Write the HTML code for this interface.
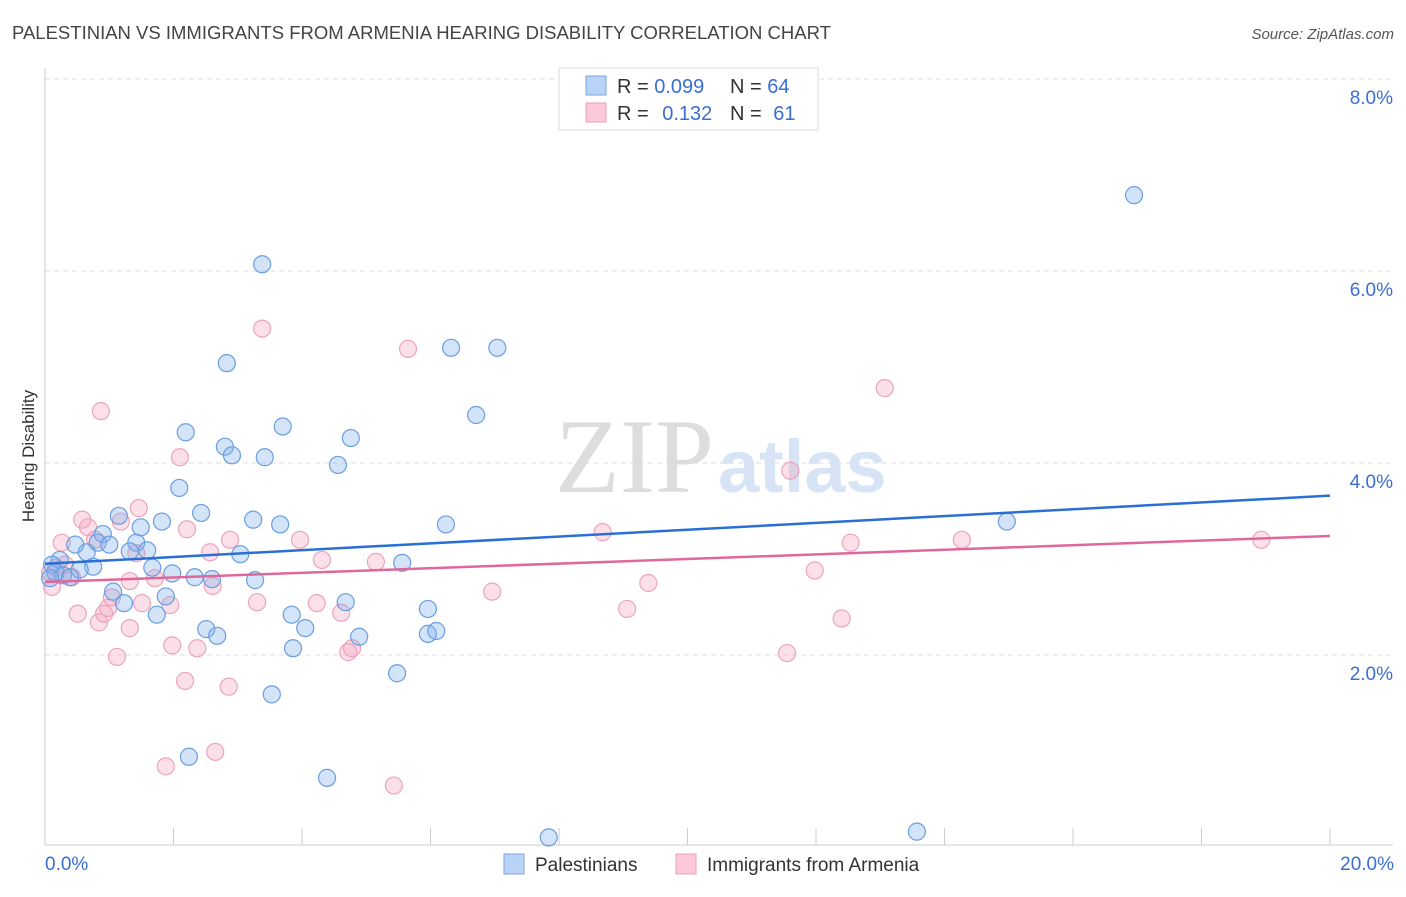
<!DOCTYPE html>
<html><head><meta charset="utf-8"><style>
body{margin:0;background:#fff;font-family:"Liberation Sans",sans-serif;}
</style></head><body>
<svg id="chart" width="1406" height="892" xmlns="http://www.w3.org/2000/svg" font-family="Liberation Sans, sans-serif">
<text x="12" y="39" font-size="18.5" fill="#444">PALESTINIAN VS IMMIGRANTS FROM ARMENIA HEARING DISABILITY CORRELATION CHART</text>
<text x="1394" y="39" font-size="15" fill="#555" text-anchor="end" font-style="italic">Source: ZipAtlas.com</text>
<g id="grid"></g>
<g>
<text x="555" y="492" font-size="106" font-family="Liberation Serif, serif" fill="#ddd">ZIP</text>
<text x="718" y="492" font-size="74" fill="#d6e4f5" font-weight="bold">atlas</text>
</g>
<g id="axes"></g>
<g id="pts"></g>
<g id="trend"></g>
<text transform="translate(34,456) rotate(-90)" font-size="17" fill="#333" text-anchor="middle">Hearing Disability</text>
<g>
<rect x="559" y="68" width="259" height="62" fill="#fff" stroke="#ddd"/>
<rect x="586" y="76" width="20" height="19" fill="#b8d3f5" stroke="#7aa8e6"/>
<rect x="586" y="103" width="20" height="19" fill="#fbc9d8" stroke="#ee9fb9"/>
<text x="617" y="93" font-size="20" fill="#333">R = <tspan fill="#3a6fd0">0.099</tspan></text>
<text x="730" y="93" font-size="20" fill="#333">N = <tspan fill="#3a6fd0">64</tspan></text>
<text x="617" y="120" font-size="20" fill="#333">R = <tspan fill="#3a6fd0" dx="8">0.132</tspan></text>
<text x="730" y="120" font-size="20" fill="#333">N = <tspan fill="#3a6fd0" dx="6">61</tspan></text>
</g>
<g>
<rect x="504" y="854" width="20" height="20" fill="#b8d3f5" stroke="#7aa8e6"/>
<text x="535" y="871" font-size="19" fill="#333">Palestinians</text>
<rect x="676" y="854" width="20" height="20" fill="#fbc9d8" stroke="#ee9fb9"/>
<text x="707" y="871" font-size="19" fill="#333">Immigrants from Armenia</text>
</g>
</svg>
<script>
const yTicks=[2,4,6,8];
const yTickLabels=["2.0%","4.0%","6.0%","8.0%"];
const xTickLabels=["0.0%","20.0%"];
const blueX=[3.38,16.95,2.83,6.32,7.04,6.71,2.19,3.70,4.76,2.80,2.91,3.42,4.56,2.09,2.43,1.15,1.82,3.24,1.49,3.66,6.24,14.97,0.90,0.47,0.82,1.00,1.42,1.59,1.32,3.04,5.56,0.65,0.23,0.11,0.16,0.28,0.75,0.54,1.67,1.98,2.33,2.60,3.27,0.08,0.39,1.06,1.23,1.88,1.74,3.84,4.68,4.05,2.51,2.68,4.89,5.96,5.96,6.09,3.86,5.48,3.53,2.24,4.39,7.84,13.57];
const blueY=[6.07,6.79,5.04,5.20,5.20,4.50,4.32,4.38,4.26,4.17,4.08,4.06,3.98,3.74,3.48,3.45,3.39,3.41,3.33,3.36,3.36,3.39,3.26,3.15,3.17,3.15,3.17,3.09,3.08,3.05,2.96,3.07,2.99,2.94,2.86,2.83,2.92,2.89,2.91,2.85,2.81,2.79,2.78,2.80,2.81,2.66,2.54,2.61,2.42,2.42,2.55,2.28,2.27,2.20,2.19,2.48,2.22,2.25,2.07,1.81,1.59,0.94,0.72,0.10,0.16];
const pinkX=[3.38,5.65,13.07,0.87,2.10,11.60,1.46,0.58,1.18,0.67,2.21,0.26,0.78,2.88,3.97,1.42,2.57,8.68,14.27,18.93,12.54,4.31,5.15,0.31,0.17,0.08,0.42,1.71,1.32,2.61,11.98,9.39,6.96,0.11,1.51,0.98,1.04,1.95,3.30,4.23,4.61,9.06,0.51,0.92,0.84,1.32,12.40,1.98,2.37,4.78,4.72,1.12,11.55,2.18,2.86,2.65,1.88,5.43];
const pinkY=[5.40,5.19,4.78,4.54,4.06,3.92,3.53,3.41,3.39,3.33,3.31,3.17,3.20,3.20,3.20,3.06,3.07,3.28,3.20,3.20,3.17,2.99,2.97,2.94,2.91,2.86,2.81,2.80,2.77,2.72,2.88,2.75,2.66,2.71,2.54,2.49,2.60,2.52,2.55,2.54,2.44,2.48,2.43,2.43,2.34,2.28,2.38,2.10,2.07,2.07,2.03,1.98,2.02,1.73,1.67,0.99,0.84,0.64];
const blueTrend=[2.95,3.66];
const pinkTrend=[2.76,3.24];
const NS="http://www.w3.org/2000/svg";
const X=v=>45+v*64.25, Y=v=>847-v*96;
function mk(tag,attrs,parent){const e=document.createElementNS(NS,tag);for(const k in attrs)e.setAttribute(k,attrs[k]);document.getElementById(parent).appendChild(e);return e;}
yTicks.forEach((t,i)=>{
 const l=mk('line',{x1:45,x2:1393,y1:Y(t),y2:Y(t),stroke:'#ddd','stroke-dasharray':'5,4'},'grid');
 
 
 const tx=mk('text',{x:1393,y:Y(t)+25,'font-size':19,fill:'#3a6fd0','text-anchor':'end'},'axes');
 tx.textContent=yTickLabels[i];
 
 
});
mk('line',{x1:45,x2:45,y1:68,y2:845,stroke:'#ccc'},'axes');
mk('line',{x1:45,x2:1393,y1:845,y2:845,stroke:'#ccc'},'axes');
for(let i=0;i<=20;i+=2){const t=mk('line',{x1:X(i),x2:X(i),y1:828,y2:845,stroke:'#ccc'},'axes');
 
 }
[[0,'start'],[20,'end']].forEach((p,i)=>{const t=mk('text',{x:i?1394:45,y:870,'font-size':19,fill:'#3a6fd0','text-anchor':p[1]},'axes');t.textContent=xTickLabels[i];
 
 });
function pts(xs,ys,fill,stroke,name){xs.forEach((x,i)=>{const c=mk('circle',{cx:X(x),cy:Y(ys[i]),r:8.5,fill:fill,stroke:stroke,'stroke-width':1.2},'pts');
 
 });}
pts(pinkX,pinkY,'rgba(244,160,188,0.32)','#eea3bc','armenia-point');
pts(blueX,blueY,'rgba(130,175,235,0.35)','#6a9ee0','palestinian-point');
const bl=mk('line',{x1:X(0),x2:X(20),y1:Y(blueTrend[0]),y2:Y(blueTrend[1]),stroke:'#2a6fd6','stroke-width':2.5},'trend');


const pl=mk('line',{x1:X(0),x2:X(20),y1:Y(pinkTrend[0]),y2:Y(pinkTrend[1]),stroke:'#e0679a','stroke-width':2.5},'trend');


</script>
</body></html>
